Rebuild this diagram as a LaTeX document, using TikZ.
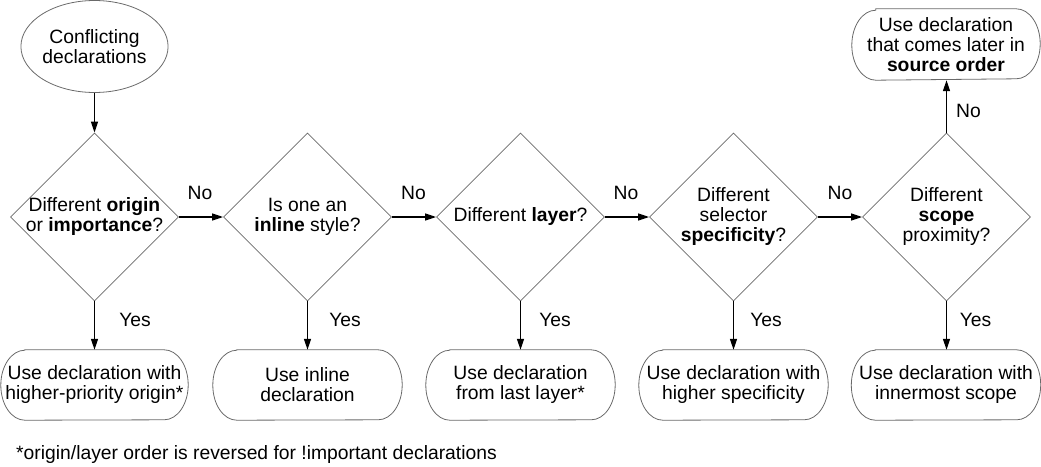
\documentclass[tikz,border=0pt]{standalone}
\usepackage{fontspec}
\setmainfont{Liberation Sans}
\usetikzlibrary{shapes.geometric,arrows.meta}
\definecolor{outl}{HTML}{6A6A6A}
\newcommand\stadiumbox[1]{%
  \draw[shapeline] ([xshift=24pt]#1.north west) -- ([xshift=-24pt]#1.north east)
    arc[start angle=90,end angle=-90,x radius=24pt,y radius=35pt]
    -- ([xshift=24pt]#1.south west)
    arc[start angle=270,end angle=90,x radius=24pt,y radius=35pt] -- cycle;}
\begin{document}
\begin{tikzpicture}[x=1pt,y=-1pt,
  every node/.style={font=\fontsize{19.3pt}{20pt}\selectfont, align=center, inner sep=0pt},
  shapeline/.style={draw=outl, line width=0.8pt},
  dia/.style={shape=diamond, shapeline, minimum width=168pt, minimum height=168pt},
  stad/.style={rectangle, minimum height=70pt},
  flow/.style={line width=1.4pt, -{Triangle[length=11pt,width=7pt]}}]
\path[use as bounding box] (0,0) rectangle (1041,466);
% start
\node[shape=ellipse, shapeline, minimum width=143pt, minimum height=92pt] (st) at (94.5,46.5) {Conflicting\\declarations};
% diamonds
\node[dia] (d1) at (94.5,217) {};
\node[dia] (d2) at (307.5,217) {};
\node[dia] (d3) at (520.5,217) {};
\node[dia] (d4) at (733.5,217) {};
\node[dia] (d5) at (946.5,217) {};
\node (t1) at (d1) {Different \textbf{origin}\\or \textbf{importance}?};
\node (t2) at (d2) {Is one an\\\textbf{inline} style?};
\node (t3) at (d3) {Different \textbf{layer}?};
\node (t4) at (d4) {Different\\selector\\\textbf{specificity}?};
\node (t5) at (d5) {Different\\\textbf{scope}\\proximity?};
% result boxes
\node[stad, minimum width=187pt] (b1) at (94.5,385) {Use declaration with\\higher-priority origin*};
\node[stad, minimum width=189pt] (b2) at (307.5,385) {Use inline\\declaration};
\node[stad, minimum width=189pt] (b3) at (520.5,385) {Use declaration\\from last layer*};
\node[stad, minimum width=189pt] (b4) at (733.5,385) {Use declaration with\\higher specificity};
\node[stad, minimum width=189pt] (b5) at (946,385) {Use declaration with\\innermost scope};
\node[stad, minimum width=188pt, minimum height=71pt] (top) at (946,44.5) {Use declaration\\that comes later in\\\textbf{source order}};
\stadiumbox{b1}\stadiumbox{b2}\stadiumbox{b3}\stadiumbox{b4}\stadiumbox{b5}\stadiumbox{top}
% connectors
\draw[flow] (st.south) -- (st.south |- d1.north);
\draw[flow] (d1.east) -- (d2.west);
\draw[flow] (d2.east) -- (d3.west);
\draw[flow] (d3.east) -- (d4.west);
\draw[flow] (d4.east) -- (d5.west);
\draw[flow] (d5.north) -- (d5.north |- top.south);
\draw[flow] (d1.south) -- (d1.south |- b1.north);
\draw[flow] (d2.south) -- (d2.south |- b2.north);
\draw[flow] (d3.south) -- (d3.south |- b3.north);
\draw[flow] (d4.south) -- (d4.south |- b4.north);
\draw[flow] (d5.south) -- (d5.south |- b5.north);
% labels
\node (n1) at (200,193) {No};
\node (n2) at (413.5,193) {No};
\node (n3) at (626,193) {No};
\node (n4) at (840,193) {No};
\node (n5) at (968.5,111) {No};
\node (y1) at (135,320) {Yes};
\node (y2) at (345,320) {Yes};
\node (y3) at (555,320) {Yes};
\node (y4) at (766,320) {Yes};
\node (y5) at (975.5,320) {Yes};
\node[anchor=west] (fn) at (16,455) {*origin/layer order is reversed for !important declarations};
\end{tikzpicture}
\end{document}
